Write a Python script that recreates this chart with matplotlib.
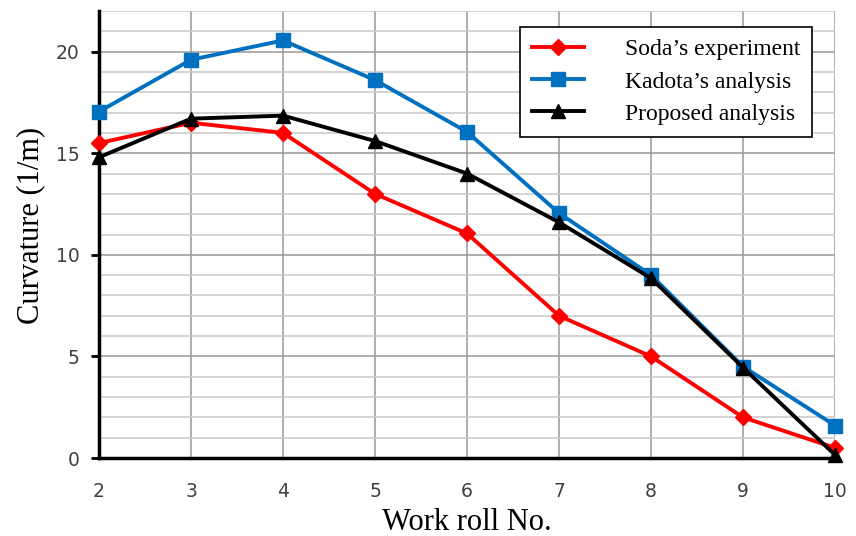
import matplotlib.pyplot as plt
from matplotlib.ticker import MultipleLocator

rolls = [2, 3, 4, 5, 6, 7, 8, 9, 10]
soda = [15.5, 16.5, 16.0, 13.0, 11.05, 7.0, 5.0, 2.0, 0.5]
kadota = [17.05, 19.6, 20.55, 18.6, 16.05, 12.05, 9.0, 4.5, 1.6]
proposed = [14.8, 16.7, 16.85, 15.6, 14.0, 11.6, 8.85, 4.45, 0.15]

labels = ["Soda\u2019s experiment", "Kadota\u2019s analysis", "Proposed analysis"]

fig = plt.figure(figsize=(8.56, 5.36), dpi=100)
ax = fig.add_axes([0.1157, 0.1455, 0.8598, 0.834])

ax.plot(rolls, soda, color='#ff0000', lw=2.8, marker='D', ms=8, clip_on=False, zorder=3, label=labels[0])
ax.plot(rolls, kadota, color='#0070c0', lw=2.8, marker='s', ms=10, clip_on=False, zorder=3, label=labels[1])
ax.plot(rolls, proposed, color='#000000', lw=2.8, marker='^', ms=10, clip_on=False, zorder=4, label=labels[2])

ax.set_xlim(2, 10)
ax.set_ylim(0, 22)
ax.yaxis.set_major_locator(MultipleLocator(5))
ax.yaxis.set_minor_locator(MultipleLocator(1))
ax.xaxis.set_major_locator(MultipleLocator(1))

ax.grid(which='major', color='#999999', lw=1.1)
ax.grid(which='minor', axis='y', color='#c8c8c8', lw=1.1)
ax.set_axisbelow(True)

for s in ['top', 'right']:
    ax.spines[s].set_visible(False)
ax.spines['left'].set_linewidth(2.5)
ax.spines['bottom'].set_linewidth(2.5)

ax.tick_params(axis='y', which='major', length=6, width=2, color='black', labelsize=13.5,
               labelcolor='#404040', pad=8)
ax.tick_params(axis='y', which='minor', length=0)
ax.tick_params(axis='x', length=0, labelsize=13.5, labelcolor='#404040', pad=17)

ax.set_xlabel('Work roll No.', family='Liberation Serif', fontsize=22, labelpad=5)
ax.set_ylabel('Curvature (1/m)', family='Liberation Serif', fontsize=22, labelpad=8)
ax.yaxis.label.set_y(0.52)

leg = ax.legend(loc='upper right', bbox_to_anchor=(0.969, 0.964), borderaxespad=0,
                prop={'family': 'Liberation Serif', 'size': 17},
                frameon=True, fancybox=False, edgecolor='black', framealpha=1,
                handlelength=2.2, handletextpad=1.75, labelspacing=0.45, borderpad=0.5)
leg.get_frame().set_linewidth(1.2)

fig.savefig('out.png', dpi=100)
